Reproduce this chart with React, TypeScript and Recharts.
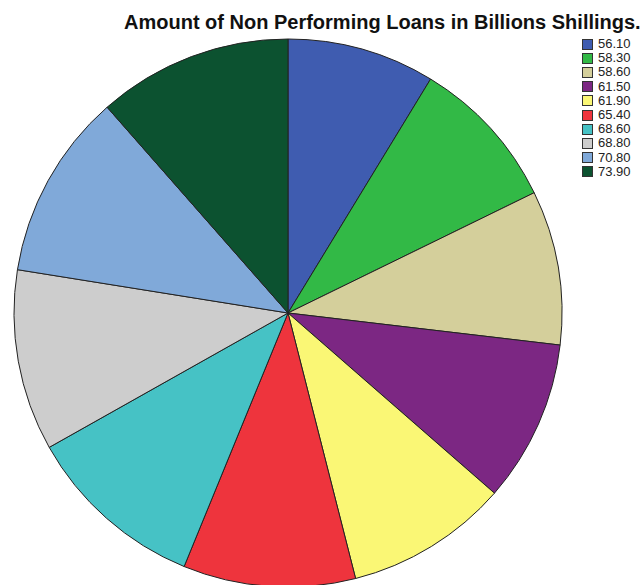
import React from "react";
import { PieChart, Pie, Cell } from "recharts";

const labels = ["56.10", "58.30", "58.60", "61.50", "61.90", "65.40", "68.60", "68.80", "70.80", "73.90"];
const amounts = [56.1, 58.3, 58.6, 61.5, 61.9, 65.4, 68.6, 68.8, 70.8, 73.9];
const colors = [
  "#3f5cb0",
  "#32b946",
  "#d4cf9b",
  "#7c2783",
  "#faf775",
  "#ee343d",
  "#46c2c5",
  "#cdcdcd",
  "#80a9d9",
  "#0c5230",
];

const data = labels.map((name, i) => ({ name, value: amounts[i] }));

const App: React.FC = () => {
  return (
    <div
      style={{
        position: "absolute",
        left: 0,
        top: 0,
        width: 642,
        height: 585,
        overflow: "hidden",
        background: "#fff",
        fontFamily: "'Liberation Sans', Arial, sans-serif",
      }}
    >
      <PieChart width={642} height={585} margin={{ top: 0, right: 0, bottom: 0, left: 0 }}>
        <Pie
          data={data}
          dataKey="value"
          nameKey="name"
          cx={288}
          cy={313}
          outerRadius={274}
          startAngle={90}
          endAngle={-270}
          stroke="#222"
          strokeWidth={1}
          isAnimationActive={false}
        >
          {data.map((d, i) => (
            <Cell key={d.name} fill={colors[i]} />
          ))}
        </Pie>
      </PieChart>
      <div
        style={{
          position: "absolute",
          left: 124,
          top: 10,
          fontSize: 20,
          fontWeight: "bold",
          color: "#111",
          whiteSpace: "nowrap",
          lineHeight: "24px",
        }}
      >
        Amount of Non Performing Loans in Billions Shillings.
      </div>
      <div style={{ position: "absolute", left: 582, top: 37 }}>
        {labels.map((l, i) => (
          <div key={l} style={{ display: "flex", alignItems: "center", height: 14.2 }}>
            <span
              style={{
                display: "inline-block",
                width: 9,
                height: 9,
                background: colors[i],
                border: "1px solid #333",
                marginRight: 5,
              }}
            />
            <span style={{ fontSize: 13, color: "#222", lineHeight: "14px" }}>{l}</span>
          </div>
        ))}
      </div>
    </div>
  );
};

export default App;
